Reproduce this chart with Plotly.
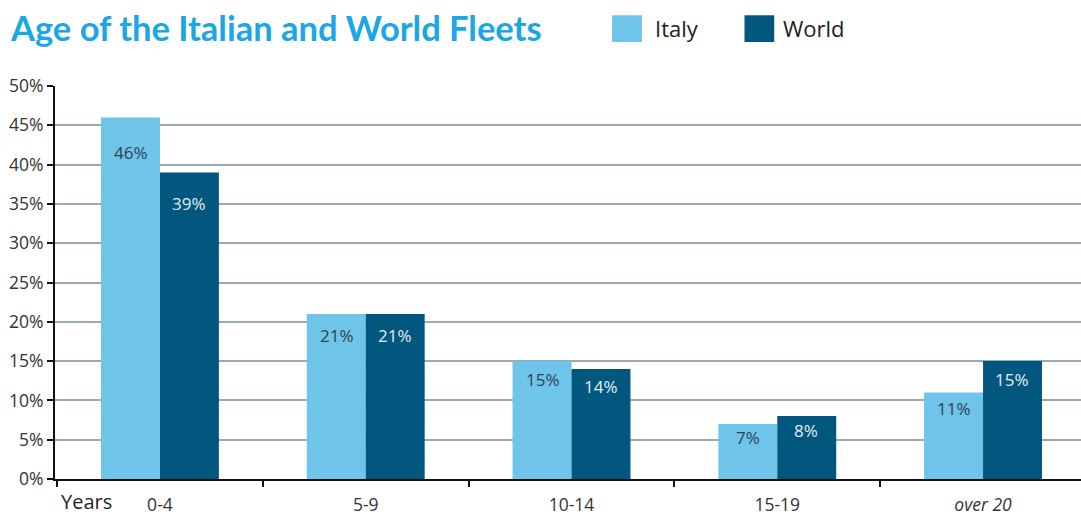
import plotly.graph_objects as go

categories = ["0-4", "5-9", "10-14", "15-19", "over 20"]
tick_labels = ["0-4", "5-9", "10-14", "15-19", "<i>over 20</i>"]
italy = [46, 21, 15, 7, 11]
world = [39, 21, 14, 8, 15]
italy_labels = ["46%", "21%", "15%", "7%", "11%"]
world_labels = ["39%", "21%", "14%", "8%", "15%"]
y_ticks = [0, 5, 10, 15, 20, 25, 30, 35, 40, 45, 50]
y_tick_labels = [f"{v}%" for v in y_ticks]

ITALY_C = "#6fc4ea"
WORLD_C = "#02577f"
FONT = "Open Sans"
LABEL_FRAC = 0.93  # labels sit a little below each bar's top

fig = go.Figure()
fig.add_trace(go.Bar(x=categories, y=italy, name="Italy", marker=dict(color=ITALY_C, line=dict(width=0))))
fig.add_trace(go.Bar(x=categories, y=world, name="World", marker=dict(color=WORLD_C, line=dict(width=0))))

ann = []
for i, c in enumerate(categories):
    ann.append(dict(x=c, y=italy[i] * LABEL_FRAC, text=italy_labels[i], xref="x", yref="y", showarrow=False,
                    xshift=-29, yshift=-10, yanchor="middle",
                    font=dict(family=FONT, size=17, color="#2c4355")))
    ann.append(dict(x=c, y=world[i] * LABEL_FRAC, text=world_labels[i], xref="x", yref="y", showarrow=False,
                    xshift=29, yshift=-10, yanchor="middle",
                    font=dict(family=FONT, size=17, color="#e3eef4")))

# title
ann.append(dict(text="<b>Age of the Italian and World Fleets</b>", xref="paper", yref="paper",
                x=-0.046, y=1.148, xanchor="left", yanchor="middle", showarrow=False,
                font=dict(family="Lato", size=34.5, color="#1ba6e6")))
# Years label
ann.append(dict(text="Years", xref="paper", yref="paper", x=0.004, y=-0.058, xanchor="left",
                yanchor="middle", showarrow=False, font=dict(family=FONT, size=20, color="#222222")))
# legend (manual)
ann.append(dict(text="Italy", xref="paper", yref="paper", x=0.583, y=1.148, xanchor="left",
                yanchor="middle", showarrow=False, font=dict(family=FONT, size=22, color="#222222")))
ann.append(dict(text="World", xref="paper", yref="paper", x=0.708, y=1.148, xanchor="left",
                yanchor="middle", showarrow=False, font=dict(family=FONT, size=22, color="#222222")))

shapes = [
    dict(type="rect", xref="paper", yref="paper", x0=0.543, x1=0.572, y0=1.112, y1=1.18,
         fillcolor=ITALY_C, line=dict(width=0)),
    dict(type="rect", xref="paper", yref="paper", x0=0.672, x1=0.701, y0=1.112, y1=1.18,
         fillcolor=WORLD_C, line=dict(width=0)),
]

fig.update_layout(
    width=1081, height=515,
    margin=dict(l=55, r=0, t=86, b=36),
    paper_bgcolor="white", plot_bgcolor="white",
    barmode="group", bargap=0.427, bargroupgap=0,
    showlegend=False,
    annotations=ann, shapes=shapes,
    font=dict(family=FONT, color="#333333"),
)
fig.update_xaxes(
    type="category", range=[-0.51, 4.476], automargin=False,
    tickmode="array", tickvals=categories, ticktext=tick_labels,
    tickson="boundaries", ticks="outside", ticklen=6, tickwidth=2, tickcolor="#111111",
    ticklabelstandoff=9,
    showline=True, linecolor="#111111", linewidth=2,
    showgrid=False, tickfont=dict(family=FONT, size=17.5, color="#333333"),
)
fig.update_yaxes(
    range=[0, 50], automargin=False,
    tickmode="array", tickvals=y_ticks, ticktext=y_tick_labels,
    ticks="outside", ticklen=6, tickwidth=2, tickcolor="#111111",
    showline=True, linecolor="#111111", linewidth=2,
    showgrid=True, gridcolor="#98aab3", gridwidth=1.5,
    zeroline=False, tickfont=dict(family=FONT, size=17.5, color="#333333"),
)
fig.write_html("out.html", config={"displayModeBar": False},
               post_script="document.body.style.margin='0';document.body.style.overflow='hidden';")
